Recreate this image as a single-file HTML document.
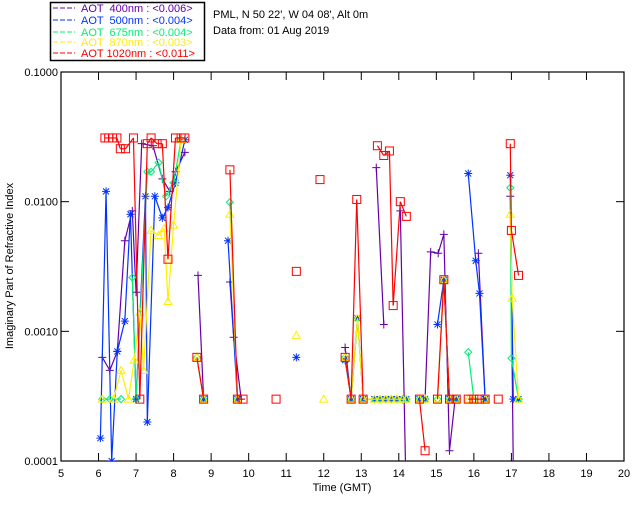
<!DOCTYPE html>
<html><head><meta charset="utf-8">
<style>
html,body{margin:0;padding:0;background:#fff;}
svg{display:block;font-family:"Liberation Sans",sans-serif;}
</style></head>
<body>
<svg id="chart" width="640" height="512" viewBox="0 0 640 512" xmlns="http://www.w3.org/2000/svg">
  <g>
    <rect x="50.5" y="2.5" width="154" height="58" fill="#fff" stroke="#000" stroke-width="1.5"/>
    <g><line x1="53" y1="8" x2="75" y2="8" stroke="#6600aa" stroke-dasharray="5,2"/><text x="81" y="12" font-size="11" fill="#6600aa" xml:space="preserve">AOT  400nm : &lt;0.006&gt;</text></g>
    <g><line x1="53" y1="20" x2="75" y2="20" stroke="#0033ff" stroke-dasharray="5,2"/><text x="81" y="24" font-size="11" fill="#0033ff" xml:space="preserve">AOT  500nm : &lt;0.004&gt;</text></g>
    <g><line x1="53" y1="32" x2="75" y2="32" stroke="#00ee77" stroke-dasharray="5,2"/><text x="81" y="36" font-size="11" fill="#00ee77" xml:space="preserve">AOT  675nm : &lt;0.004&gt;</text></g>
    <g><line x1="53" y1="42" x2="75" y2="42" stroke="#ffee00" stroke-dasharray="5,2"/><text x="81" y="46" font-size="11" fill="#ffee00" xml:space="preserve">AOT  870nm : &lt;0.003&gt;</text></g>
    <g><line x1="53" y1="53" x2="75" y2="53" stroke="#ff0000" stroke-dasharray="5,2"/><text x="81" y="57" font-size="11" fill="#ff0000" xml:space="preserve">AOT 1020nm : &lt;0.011&gt;</text></g>
  </g>
  <text x="213" y="18" font-size="11" fill="#000">PML, N 50 22', W 04 08', Alt 0m</text>
  <text x="213" y="34" font-size="11" fill="#000">Data from: 01 Aug 2019</text>
  <g id="axes"></g>
  <defs><clipPath id="pc"><rect x="61" y="72" width="563" height="389"/></clipPath></defs>
  <g id="series" clip-path="url(#pc)"></g>
  <text x="342" y="491" font-size="11" text-anchor="middle">Time (GMT)</text>
  <text transform="translate(13,266) rotate(-90)" font-size="11" text-anchor="middle">Imaginary Part of Refractive Index</text>
</svg>
<script>
const xTicks = [5,6,7,8,9,10,11,12,13,14,15,16,17,18,19,20];
const yTicks = [0.1, 0.01, 0.001, 0.0001];
const yTickLabels = ["0.1000","0.0100","0.0010","0.0001"];
const seriesNames = ["400","500","675","870","1020"];

const t400 = [6.1,6.3,6.5,6.7,6.9,7.0,7.15,7.45,7.7,7.9,8.05,8.3, 8.65,8.8, 9.5,9.6,9.8, 12.57,12.73,13.4,13.6,14.04,14.18, 14.7,14.85,15.05,15.2,15.35,15.5, 16.12,16.3, 16.97,17.05];
const v400 = [0.00063,0.0005,0.0007,0.005,0.0085,0.002,0.028,0.027,0.015,0.012,0.017,0.024, 0.0027,0.0003, 0.0024,0.0009,0.0003, 0.00075,0.0003,0.0183,0.00113,0.0085,0.00009, 0.0003,0.0041,0.004,0.0056,0.00012,0.0003, 0.004,0.0003, 0.011,0.00009];
const t500 = [6.05,6.2,6.35,6.5,6.7,6.85,7.0,7.25,7.3,7.5,7.7,7.85,8.05,8.3, 8.8, 9.45,9.7, 11.27, 12.57,12.73,12.9,13.05, 13.35,13.5,13.65,13.8,13.95,14.1,14.2, 14.55,14.7,15.03,15.2,15.35,15.53, 15.85,16.05,16.15,16.3, 16.97,17.05,17.19];
const v500 = [0.00015,0.012,0.0001,0.0007,0.0012,0.008,0.0003,0.011,0.0002,0.011,0.0075,0.009,0.014,0.03, 0.0003, 0.005,0.0003, 0.00063, 0.0006,0.0003,0.00126,0.0003, 0.0003,0.0003,0.0003,0.0003,0.0003,0.0003,0.0003, 0.0003,0.0003,0.00113,0.0025,0.0003,0.0003, 0.0165,0.0035,0.00196,0.0003, 0.016,0.0003,0.0003];
const t675 = [6.1,6.3,6.6,6.9,7.0,7.3,7.4,7.6,7.8,8.0,8.2, 8.62,8.8, 9.5,9.7, 12.57,12.73,12.9,13.05, 13.35,13.5,13.65,13.8,13.95,14.1,14.2, 14.55,14.7,15.03,15.2,15.35,15.53, 15.85,16.0,16.3, 16.97,17.0,17.19];
const v675 = [0.0003,0.0003,0.0003,0.0026,0.0003,0.017,0.017,0.02,0.011,0.014,0.03, 0.00063,0.0003, 0.0099,0.0003, 0.00063,0.0003,0.00126,0.0003, 0.0003,0.0003,0.0003,0.0003,0.0003,0.0003,0.0003, 0.0003,0.0003,0.0003,0.0025,0.0003,0.0003, 0.00069,0.0003,0.0003, 0.0128,0.00062,0.0003];
const t870 = [6.1,6.4,6.6,6.8,6.95,7.1,7.2,7.4,7.6,7.75,7.85,8.0,8.2, 8.62,8.8, 9.5,9.7, 11.27,12.0, 12.57,12.73,12.9,13.05, 13.35,13.5,13.65,13.8,13.95,14.1,14.2, 14.55,14.7,15.03,15.2,15.35,15.53, 15.85,16.0,16.3, 16.97,17.02,17.19];
const v870 = [0.0003,0.0003,0.0005,0.0003,0.0006,0.0014,0.0005,0.006,0.0055,0.0062,0.0017,0.0066,0.03, 0.00063,0.0003, 0.008,0.0003, 0.00093,0.0003, 0.00063,0.0003,0.00126,0.0003, 0.0003,0.0003,0.0003,0.0003,0.0003,0.0003,0.0003, 0.0003,0.0003,0.0003,0.0025,0.0003,0.0003, 0.0003,0.0003,0.0003, 0.008,0.0018,0.0003];
const t1020 = [6.17,6.27,6.37,6.49,6.58,6.72,6.93,7.1,7.3,7.4,7.56,7.7,7.85,8.05,8.2,8.3, 8.62,8.8, 9.5,9.7,9.85, 10.73, 11.27, 11.9, 12.57,12.73,12.88,13.05,13.43,13.6,13.75,13.85,14.04,14.2, 14.55,14.7,15.03,15.2,15.35,15.53, 15.85,16.0,16.15,16.3, 16.65,16.97,17.0,17.19];
const v1020 = [0.031,0.031,0.031,0.031,0.0256,0.0256,0.031,0.0003,0.028,0.031,0.028,0.028,0.0036,0.031,0.031,0.031, 0.00063,0.0003, 0.0176,0.0003,0.0003, 0.0003, 0.0029, 0.0148, 0.00063,0.0003,0.0104,0.0003,0.027,0.0227,0.0246,0.00158,0.01,0.0077, 0.0003,0.00012,0.0003,0.0025,0.0003,0.0003, 0.0003,0.0003,0.0003,0.0003, 0.0003,0.028,0.006,0.0027];

const colors = ["#6600aa","#0033ff","#00ee77","#ffee00","#ff0000"];
const X0=61, X1=624, Y0=461, Y1=72;
function xs(t){ return X0 + (t-5)/15*(X1-X0); }
function ys(v){ return Y0 - (Math.log10(v)+4)/3*(Y0-Y1); }
const NS="http://www.w3.org/2000/svg";
function mk(tag, attrs, parent){ const e=document.createElementNS(NS,tag); for(const k in attrs) e.setAttribute(k,attrs[k]); parent.appendChild(e); return e; }

const axes=document.getElementById('axes');
const frame = mk('rect',{x:X0,y:Y1,width:X1-X0,height:Y0-Y1,fill:'none',stroke:'#000','stroke-width':1.2},axes);


xTicks.forEach(t=>{
  const x=xs(t);
  const tb=mk('line',{x1:x,y1:Y0,x2:x,y2:Y0-8,stroke:'#000'},axes);
  
  
  const tt=mk('line',{x1:x,y1:Y1,x2:x,y2:Y1+8,stroke:'#000'},axes);
  
  
  const lb=mk('text',{x:x,y:477,'font-size':11,'text-anchor':'middle'},axes);
  lb.textContent=t;
  
  
});
yTicks.forEach((v,i)=>{
  const y=ys(v);
  const tl=mk('line',{x1:X0,y1:y,x2:X0+8,y2:y,stroke:'#000'},axes);
  
  
  const tr=mk('line',{x1:X1,y1:y,x2:X1-8,y2:y,stroke:'#000'},axes);
  
  
  const lb=mk('text',{x:X0-3,y:y+4,'font-size':11,'text-anchor':'end'},axes);
  lb.textContent=yTickLabels[i];
  
  
});

const ser=document.getElementById('series');
const allT=[t400,t500,t675,t870,t1020], allV=[v400,v500,v675,v870,v1020];
function marker(k,x,y,c,g){
  if(k===0){ mk('path',{d:`M${x-4},${y}H${x+4}M${x},${y-4}V${y+4}`,stroke:c,fill:'none'},g); }
  else if(k===1){ mk('path',{d:`M${x-4},${y}H${x+4}M${x},${y-4}V${y+4}M${x-3},${y-3}L${x+3},${y+3}M${x-3},${y+3}L${x+3},${y-3}`,stroke:c,fill:'none'},g); }
  else if(k===2){ mk('path',{d:`M${x},${y-3.5}L${x+3.5},${y}L${x},${y+3.5}L${x-3.5},${y}Z`,stroke:c,fill:'none'},g); }
  else if(k===3){ mk('path',{d:`M${x},${y-4}L${x+4},${y+3}L${x-4},${y+3}Z`,stroke:c,fill:'none'},g); }
  else { mk('rect',{x:x-4,y:y-4,width:8,height:8,stroke:c,fill:'none'},g); }
}
allT.forEach((ts,k)=>{
  const vs=allV[k], c=colors[k];
  const g=mk('g',{},ser);
  
  
  for(let i=1;i<ts.length;i++){
    if(ts[i]-ts[i-1] < 0.3){
      const ln=mk('line',{x1:xs(ts[i-1]),y1:ys(vs[i-1]),x2:xs(ts[i]),y2:ys(vs[i]),stroke:c,'stroke-width':1.2},g);
      
      
    }
  }
  ts.forEach((t,i)=>{ marker(k,xs(t),ys(vs[i]),c,g); });
});
</script>
</body></html>
